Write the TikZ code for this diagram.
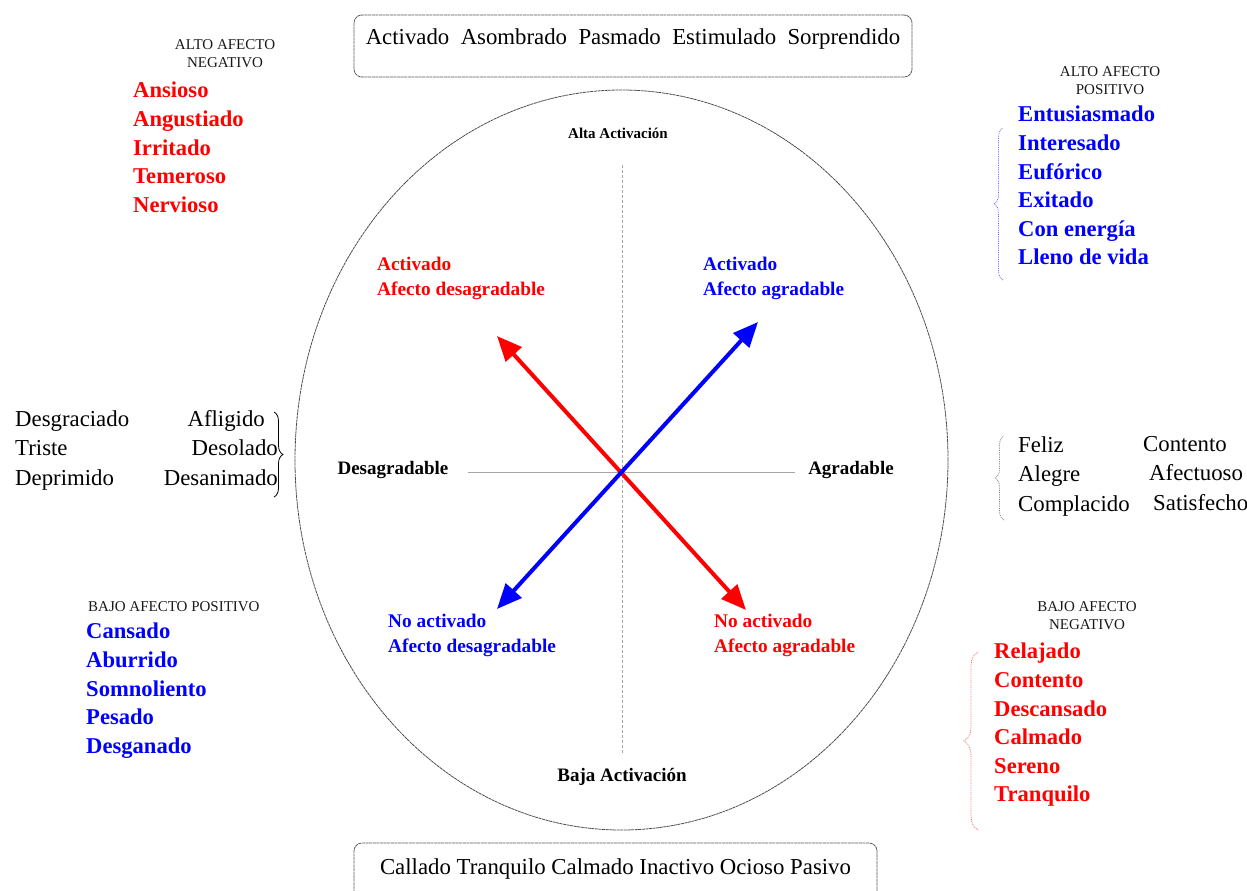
\documentclass[tikz,border=0pt]{standalone}
\usepackage{fontspec}
\setmainfont{Liberation Serif}
\usetikzlibrary{arrows.meta, positioning, shapes.geometric, decorations.pathreplacing}

\begin{document}
\begin{tikzpicture}[
    x=1pt, y=-1pt,
    wordlist/.style={inner sep=0pt, align=left, anchor=north west, font=\fontsize{22.6}{28.6}\selectfont\bfseries},
    plainlist/.style={inner sep=0pt, anchor=north west, font=\fontsize{22.8}{29.5}\selectfont},
    header/.style={inner sep=0pt, align=center, anchor=north, gray!20!black, font=\fontsize{15}{18}\selectfont},
    quadrant/.style={inner sep=0pt, align=left, anchor=north west, font=\fontsize{19.3}{25}\selectfont\bfseries},
    axislabel/.style={inner sep=0pt, anchor=base, font=\fontsize{19}{23}\selectfont\bfseries},
    wordbox/.style={draw=gray!70!black, rounded corners=8pt, dash pattern=on 3pt off 0.6pt, line width=0.8pt,
                    inner sep=0pt, anchor=base, font=\fontsize{22.8}{26}\selectfont},
    axis/.style={gray!70, line width=0.9pt},
    mood/.style={line width=4pt, {Triangle[length=25pt,width=21pt]}-{Triangle[length=25pt,width=21pt]}},
    curly/.style={decorate, decoration={brace, amplitude=#1}, line width=0.8pt},
    curly/.default=9pt
]
\useasboundingbox (0,0) rectangle (1247,891);

% Circumplex
\node[ellipse, draw=gray!60!black, dash pattern=on 3pt off 0.6pt, line width=0.8pt,
      minimum width=653pt, minimum height=740pt, inner sep=0pt] (circ) at (621.5,460) {};

% Axes
\coordinate (mid) at (622,472);
\coordinate (axtop) at (622,165);
\coordinate (axbot) at (622,753);
\coordinate (axleft) at (468,472);
\coordinate (axright) at (795,472);
\draw[axis, densely dashed] (axtop) -- (axbot);
\draw[axis] (axleft) -- (axright);

\node[axislabel, font=\fontsize{15}{18}\selectfont\bfseries] (alta) at (618,138) {Alta Activación};
\node[axislabel] (baja) at (622,781) {Baja Activación};
\node[axislabel] (desag) at (393,474) {Desagradable};
\node[axislabel] (agrad) at (851,474) {Agradable};

% Arrows
\coordinate (redA) at (497,336);
\coordinate (redB) at (746,610);
\coordinate (blueA) at (497,609);
\coordinate (blueB) at (758,322);
\draw[mood, red] (redA) -- (redB);
\draw[mood, blue] (blueA) -- (blueB);

% Quadrant labels
\node[quadrant, red] (q1) at (377,257) {Activado\\Afecto desagradable};
\node[quadrant, blue] (q2) at (703,257) {Activado\\Afecto agradable};
\node[quadrant, blue] (q3) at (388,614) {No activado\\Afecto desagradable};
\node[quadrant, red] (q4) at (714,614) {No activado\\Afecto agradable};

% Boxes
\node[wordbox, minimum width=558pt, text height=30pt, text depth=32pt] (top) at (633,45)
    {Activado\ \ Asombrado\ \ Pasmado\ \ Estimulado\ \ Sorprendido};
\node[wordbox, minimum width=523pt, text height=31pt, text depth=40pt] (bottom) at (615.5,874)
    {Callado Tranquilo Calmado Inactivo Ocioso Pasivo};

% Alto afecto negativo
\node[header] (altoneg) at (225,39) {ALTO AFECTO\\NEGATIVO};
\node[wordlist, red] (listA) at (133,82) {Ansioso\\Angustiado\\Irritado\\Temeroso\\Nervioso};

% Alto afecto positivo
\node[header] (altopos) at (1110,66) {ALTO AFECTO\\POSITIVO};
\node[wordlist, blue] (listB) at (1018,106) {Entusiasmado\\Interesado\\Eufórico\\Exitado\\Con energía\\Lleno de vida};
\coordinate (brB1) at (1003,280);
\coordinate (brB2) at (1003,128);
\draw[curly, blue!60, densely dotted] (brB1) -- (brB2);

% Left words
\node[plainlist, align=left] (leftA) at (15,410) {Desgraciado\\Triste\\Deprimido};
\node[plainlist, align=right, anchor=north east] (leftB) at (278,410) {Afligido\rule{13pt}{0pt}\\Desolado\\Desanimado};
\coordinate (brL1) at (274,412);
\coordinate (brL2) at (274,497);
\draw[curly] (brL1) -- (brL2);

% Right words
\node[plainlist, align=left] (rightA) at (1018,436) {Feliz\\Alegre\\Complacido};
\node[plainlist, align=left] (rightB) at (1143,436) {Contento\\\hspace{6pt}Afectuoso\\\hspace{10pt}Satisfecho};
\coordinate (brR1) at (1004,520);
\coordinate (brR2) at (1004,436);
\draw[curly, gray, densely dotted] (brR1) -- (brR2);

% Bajo afecto positivo
\node[header, anchor=base west] (bajopos) at (88,611) {BAJO AFECTO POSITIVO};
\node[wordlist, blue] (listC) at (86,623) {Cansado\\Aburrido\\Somnoliento\\Pesado\\Desganado};

% Bajo afecto negativo
\node[header] (bajoneg) at (1087,601) {BAJO AFECTO\\NEGATIVO};
\node[wordlist, red] (listD) at (994,643) {Relajado\\Contento\\Descansado\\Calmado\\Sereno\\Tranquilo};
\coordinate (brD1) at (978,830);
\coordinate (brD2) at (978,652);
\draw[curly=14pt, red!60, densely dotted] (brD1) -- (brD2);

\end{tikzpicture}
\end{document}
